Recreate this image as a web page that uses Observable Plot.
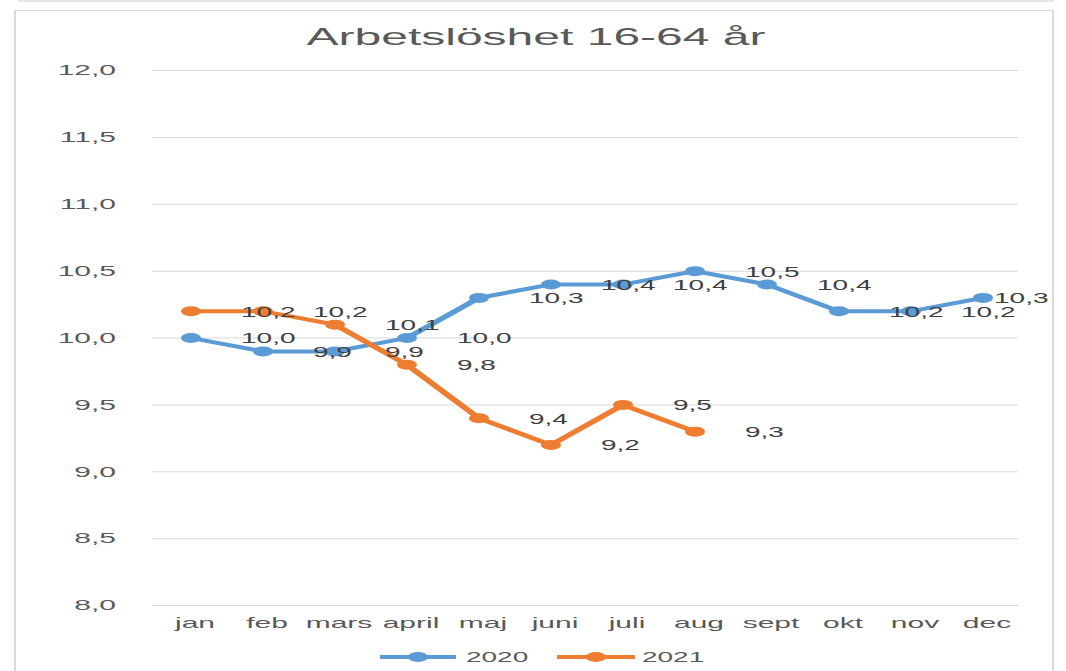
<!DOCTYPE html>
<html>
<head>
<meta charset="utf-8">
<script src="https://cdn.jsdelivr.net/npm/d3@7"></script>
<script src="https://cdn.jsdelivr.net/npm/@observablehq/plot@0.6"></script>
<style>
  html, body { margin: 0; padding: 0; background: #fff; }
  #wrap { position: absolute; left: 0; top: 0; width: 533px; height: 671px; transform: scaleX(2); transform-origin: 0 0; font-family: "Liberation Sans", Arial, sans-serif; overflow: hidden; }
  #topline { position: absolute; left: 8.5px; top: 0; width: 518px; height: 2px; background: #e8e8e8; }
  #box { position: absolute; left: 7px; top: 9.5px; width: 520px; height: 700px; border: 1.5px solid #d9d9d9; box-sizing: border-box; }
  #title { position: absolute; left: 7px; width: 522px; top: 25px; line-height: 24px; font-size: 24px; color: #595959; text-align: center; }
  #chart { position: absolute; left: 0; top: 0; }
  #legend { position: absolute; left: 0; top: 640px; }
</style>
</head>
<body>
<div id="wrap">
  <div id="topline"></div>
  <div id="box"></div>
  <div id="title">Arbetslöshet 16-64 år</div>
  <div id="chart"></div>
  <div id="legend"></div>
</div>
<script>
const months = ["jan","feb","mars","april","maj","juni","juli","aug","sept","okt","nov","dec"];
const values2020 = [10.0, 9.9, 9.9, 10.0, 10.3, 10.4, 10.4, 10.5, 10.4, 10.2, 10.2, 10.3];
const values2021 = [10.2, 10.2, 10.1, 9.8, 9.4, 9.2, 9.5, 9.3];
const seriesNames = ["2020", "2021"];
const seriesColors = ["#5B9BD5", "#ED7D31"];
const yTicks = [8.0, 8.5, 9.0, 9.5, 10.0, 10.5, 11.0, 11.5, 12.0];

const fmt = d => d.toFixed(1).replace(".", ",");

const rows = [];
[values2020, values2021].forEach((vals, s) => {
  vals.forEach((v, i) => rows.push({series: seriesNames[s], month: months[i], i, value: v}));
});
const inner = rows.filter(d => d.i < months.length - 1);
const last = rows.filter(d => d.i === months.length - 1);

const chart = Plot.plot({
  width: 533,
  height: 640,
  marginLeft: 76,
  marginRight: 24,
  marginTop: 70,
  marginBottom: 35,
  style: {fontFamily: "Liberation Sans, Arial, sans-serif", background: "transparent", color: "#595959", overflow: "visible"},
  x: {type: "point", domain: months, padding: 0.5, label: null},
  y: {domain: [8, 12], label: null},
  color: {domain: seriesNames, range: seriesColors},
  marks: [
    Plot.gridY(yTicks, {stroke: "#d9d9d9", strokeOpacity: 1, strokeWidth: 1}),
    Plot.axisY(yTicks, {tickSize: 0, tickPadding: 18.5, tickFormat: fmt, fontSize: 15, label: null}),
    Plot.axisX({tickSize: 0, tickPadding: 12, fontSize: 15, label: null, dx: 2}),
    Plot.line(rows, {x: "month", y: "value", z: "series", stroke: "series", strokeWidth: 4}),
    Plot.dot(rows, {x: "month", y: "value", fill: "series", r: 5}),
    Plot.text(inner, {x: d => months[d.i + 1], y: "value", text: d => fmt(d.value), textAnchor: "start", dx: -11, dy: 1, fontSize: 14, fill: "#404040"}),
    Plot.text(last, {x: "month", y: "value", text: d => fmt(d.value), textAnchor: "start", dx: 5.5, dy: 1, fontSize: 14, fill: "#404040"})
  ]
});
document.getElementById("chart").appendChild(chart);

// legend
const lg = d3.create("svg").attr("width", 533).attr("height", 31);
const legendItems = [{x0: 190, x1: 228, tx: 233}, {x0: 278.5, x1: 317.5, tx: 321}];
seriesNames.forEach((name, k) => {
  const it = legendItems[k];
  const g = lg.append("g");
  g.append("line").attr("x1", it.x0).attr("x2", it.x1).attr("y1", 17).attr("y2", 17)
    .attr("stroke", seriesColors[k]).attr("stroke-width", 4);
  g.append("circle").attr("cx", (it.x0 + it.x1) / 2).attr("cy", 17).attr("r", 5).attr("fill", seriesColors[k]);
  g.append("text").attr("x", it.tx).attr("y", 22).attr("font-size", 14)
    .attr("font-family", "Liberation Sans, Arial, sans-serif").attr("fill", "#595959").text(name);
});
document.getElementById("legend").appendChild(lg.node());
</script>
</body>
</html>
